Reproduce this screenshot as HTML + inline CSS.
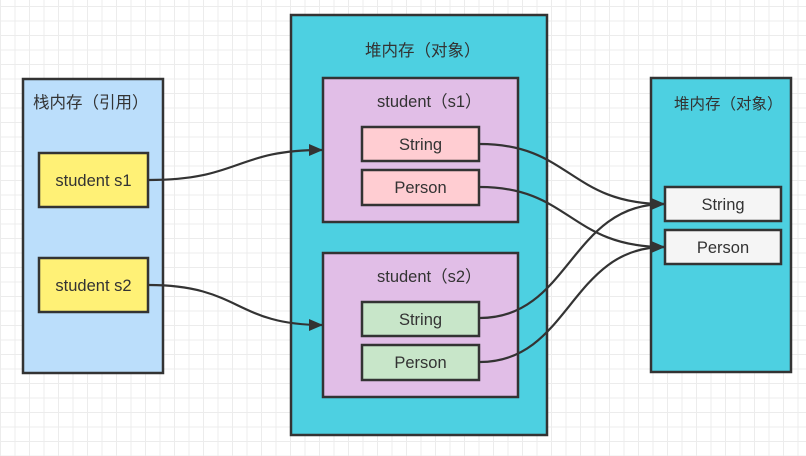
<!DOCTYPE html>
<html><head><meta charset="utf-8"><style>
html,body{margin:0;padding:0;}
body{width:806px;height:456px;overflow:hidden;background:#fff;
background-image:linear-gradient(#ececec 1px,transparent 1px),linear-gradient(90deg,#ececec 1px,transparent 1px);
background-size:14.5px 14.5px;background-position:0 6px;}
svg{position:absolute;left:0;top:0;}
text{font-family:"Liberation Sans","Noto Sans CJK SC",sans-serif;fill:#333;}
</style></head><body>
<svg width="806" height="456" viewBox="0 0 806 456">
<defs><marker id="a" markerWidth="14" markerHeight="14" refX="13" refY="6" orient="auto" markerUnits="userSpaceOnUse"><path d="M0,0 L14,6 L0,12 z" fill="#333"/></marker></defs>
<g stroke="#333" stroke-width="2.5">
<rect x="23" y="79" width="140" height="294" fill="#bbdefb"/>
<rect x="39" y="153" width="109" height="54" fill="#fff176"/>
<rect x="39" y="258" width="109" height="54" fill="#fff176"/>
<rect x="291" y="15" width="256" height="420" fill="#4dd0e1"/>
<rect x="323" y="78" width="195" height="144" fill="#e1bee7"/>
<rect x="362" y="127" width="117" height="34" fill="#ffcdd2"/>
<rect x="362" y="170" width="117" height="35" fill="#ffcdd2"/>
<rect x="323" y="253" width="195" height="144" fill="#e1bee7"/>
<rect x="362" y="302" width="117" height="34" fill="#c8e6c9"/>
<rect x="362" y="345" width="117" height="35" fill="#c8e6c9"/>
<rect x="651" y="78" width="140" height="294" fill="#4dd0e1"/>
<rect x="665" y="187" width="116" height="34" fill="#f5f5f5"/>
<rect x="665" y="230" width="116" height="34" fill="#f5f5f5"/>
</g>
<g fill="none" stroke="#333" stroke-width="2.2" marker-end="url(#a)">
<path d="M149,180 C240,180 235,150 322,150"/>
<path d="M149,285 C240,285 235,325 322,325"/>
<path d="M480,144 C570,144 570,204 664,204"/>
<path d="M480,187 C570,187 570,247 664,247"/>
<path d="M480,318 C570,318 570,204 664,204"/>
<path d="M480,362 C570,362 570,247 664,247"/>
</g>
<g font-size="16.5">
<text x="33" y="108">栈内存（引用）</text>
<text x="93.5" y="186" text-anchor="middle">student s1</text>
<text x="93.5" y="291" text-anchor="middle">student s2</text>
<text x="365" y="56">堆内存（对象）</text>
<text x="377" y="107">student（s1）</text>
<text x="377" y="282">student（s2）</text>
<text x="420.5" y="150" text-anchor="middle">String</text>
<text x="420.5" y="193" text-anchor="middle">Person</text>
<text x="420.5" y="325" text-anchor="middle">String</text>
<text x="420.5" y="368" text-anchor="middle">Person</text>
<text x="674" y="109" font-size="15.5">堆内存（对象）</text>
<text x="723" y="210" text-anchor="middle">String</text>
<text x="723" y="253" text-anchor="middle">Person</text>
</g>
</svg>
</body></html>
